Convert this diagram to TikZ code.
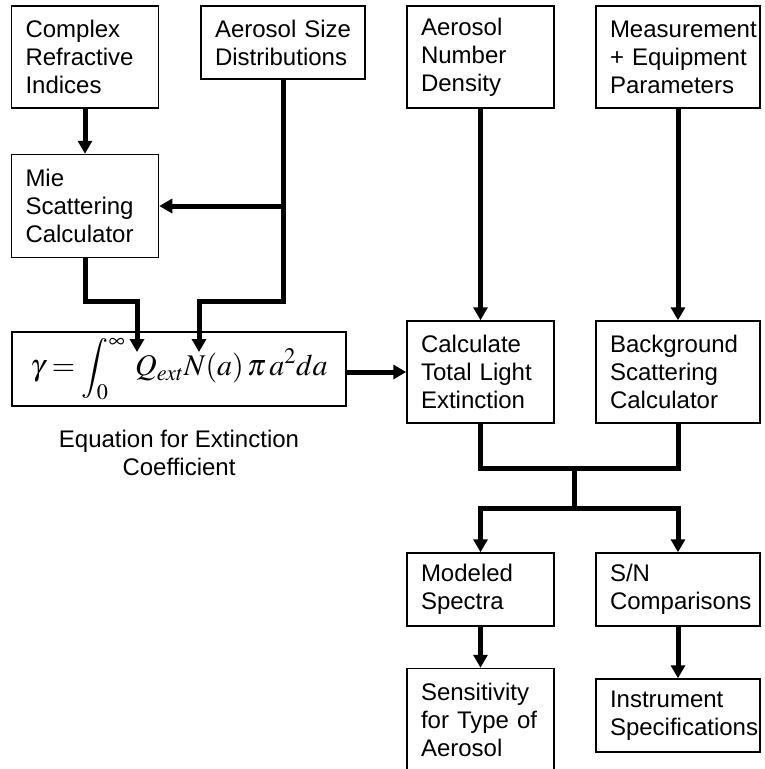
\documentclass[tikz,border=0pt]{standalone}
\usepackage{mathptmx}
\usepackage[no-math]{fontspec}
\setmainfont{Liberation Sans}
\usetikzlibrary{arrows.meta}

\newcommand{\boxfont}{\fontsize{24}{28}\selectfont\hyphenpenalty=10000 }

\tikzset{
	box/.style={draw, line width=1.5pt, inner xsep=14pt, inner ysep=0pt, align=left, font=\boxfont},
	narrow/.style={box, text width=119pt},
	wide/.style={box, text width=136pt},
	tall/.style={minimum height=102pt},
	short/.style={minimum height=73pt},
	line/.style={line width=5pt},
	flow/.style={line, -{Triangle[width=14pt,length=13pt]}}
}

\begin{document}
\begin{tikzpicture}[x=1pt, y=-1pt]

\useasboundingbox (0,0) rectangle (764,769);

% inputs
\node[narrow, tall] (cri) at (85,57) {Complex\\Refractive\\Indices};
\node[wide, short] (asd) at (283,42.5) {Aerosol~Size\\Distributions};
\node[narrow, tall] (and) at (480.5,57) {Aerosol\\Number\\Density};
\node[wide, tall] (mep) at (678,57) {Measurement\\+~Equipment\\Parameters};

% calculators
\node[narrow, minimum height=103pt] (mie) at (85,206) {Mie\\Scattering\\Calculator};
\node[draw, line width=1.5pt, minimum width=334pt, minimum height=74pt, inner sep=0pt,
	font=\fontsize{30}{36}\selectfont] (eq) at (179,369)
	{$\displaystyle \gamma = \int_0^\infty \; Q_{ext} N(a)\,\pi\, a^2 da$};
\node[font=\boxfont, align=center] (eqname) at (179,452.5) {Equation for Extinction\\Coefficient};
\node[narrow, tall] (ctl) at (480.5,372) {Calculate\\Total~Light\\Extinction};
\node[wide, tall] (bsc) at (678,372) {Background\\Scattering\\Calculator};

% outputs
\node[narrow, short] (ms) at (480.5,589.5) {Modeled\\Spectra};
\node[wide, short] (sn) at (678,589.5) {S/N\\Comparisons};
\node[narrow, minimum height=103pt] (sta) at (480.5,720) {Sensitivity\\for~Type~of\\Aerosol};
\node[wide, short] (is) at (678,715.5) {Instrument\\Specifications};

\coordinate (bend) at (0,301);
\coordinate (qin) at (137,352);
\coordinate (nin) at (199,352);
\coordinate (merge) at (574,468);
\coordinate (split) at (574,508);

\foreach \a/\b in {cri/mie, and/ctl, mep/bsc, ms/sta, sn/is}
	\draw[flow] (\a) -- (\b);

\draw[flow] (asd.south |- mie.east) -- (mie.east);
\draw[flow] (mie.south) |- (qin |- bend) -- (qin);
\draw[flow] (asd.south) |- (nin |- bend) -- (nin);
\draw[flow] (eq.east |- ctl.west) -- (ctl.west);

\draw[line] (ctl.south) |- (merge) -| (bsc.south);
\draw[line] (merge) -- (split);
\draw[flow] (split) -| (ms.north);
\draw[flow] (split) -| (sn.north);

%\draw[red] (0,0) rectangle (764,769);

\end{tikzpicture}
\end{document}
